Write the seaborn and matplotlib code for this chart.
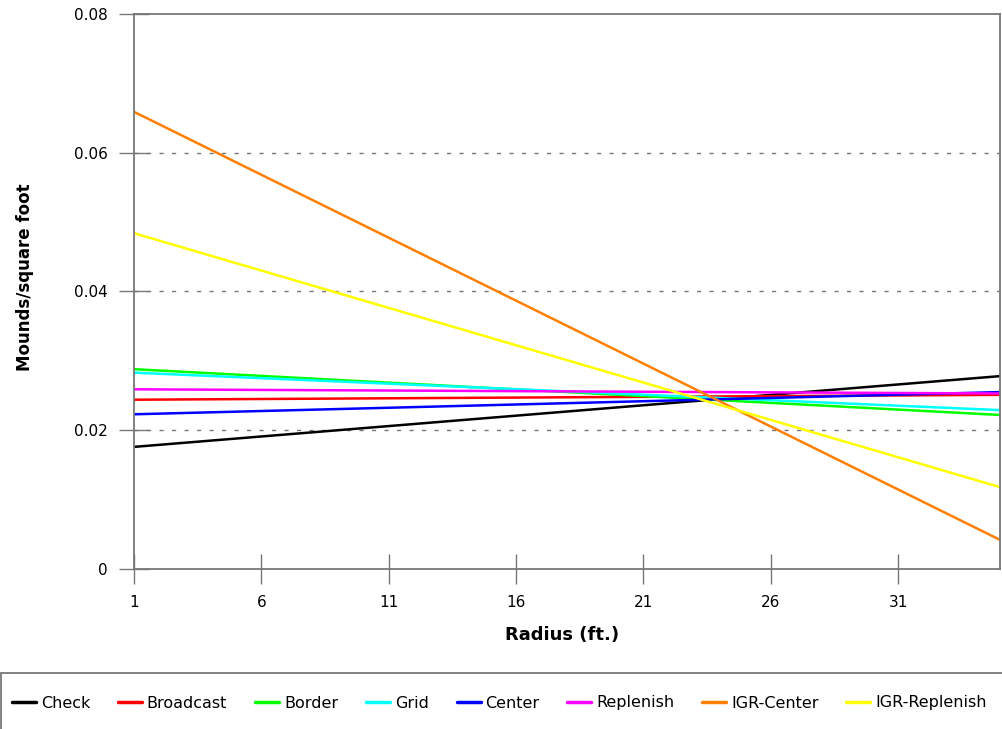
import pandas as pd
import numpy as np
import matplotlib.pyplot as plt
import seaborn as sns
from matplotlib.patches import Rectangle

# radius endpoints (ft.) - every series is a straight fitted line
radius = [1, 35]

check = [0.0176, 0.0278]
broadcast = [0.0244, 0.0251]
border = [0.0288, 0.0222]
grid = [0.0283, 0.0229]
center = [0.0223, 0.0255]
replenish = [0.0259, 0.0253]
igr_center = [0.0659, 0.0042]
igr_replenish = [0.0484, 0.0118]

names = ["Check", "Broadcast", "Border", "Grid", "Center", "Replenish", "IGR-Center", "IGR-Replenish"]
colors = ["#000000", "#ff0000", "#00ff00", "#00ffff", "#0000ff", "#ff00ff", "#ff8000", "#ffff00"]

series = [check, broadcast, border, grid, center, replenish, igr_center, igr_replenish]
rows = []
for nm, vals in zip(names, series):
    for r, v in zip(radius, vals):
        rows.append({"radius": r, "value": v, "series": nm})
df = pd.DataFrame(rows)

sns.set_style("white")
plt.rcParams["font.family"] = ["DejaVu Sans"]

fig = plt.figure(figsize=(10.03, 7.29), dpi=100)
ax = fig.add_axes([0.1336, 0.2195, 0.8634, 0.7613])

sns.lineplot(data=df, x="radius", y="value", hue="series", hue_order=names,
             palette=colors, linewidth=1.8, ax=ax, legend=False)

ax.set_xlim(1, 35)
ax.set_ylim(0, 0.08)
ax.set_xticks([1, 6, 11, 16, 21, 26, 31])
ax.set_yticks([0, 0.02, 0.04, 0.06, 0.08])
ax.set_yticklabels(["0", "0.02", "0.04", "0.06", "0.08"])

for yv in [0.02, 0.04, 0.06]:
    ax.axhline(yv, color="#777777", linewidth=1, linestyle=(0, (3, 6)), zorder=0)

for s in ax.spines.values():
    s.set_color("#777777")
    s.set_linewidth(1.3)
ax.tick_params(bottom=True, left=True, direction="inout", length=22, width=1,
               color="#777777", labelsize=11, pad=8, labelcolor="black")

ax.set_xlabel("Radius (ft.)", fontsize=13, fontweight="bold", color="black")
ax.set_ylabel("Mounds/square foot", fontsize=12, fontweight="bold", color="black")
ax.xaxis.set_label_coords(0.494, (569 - 635) / 555)
ax.yaxis.set_label_coords((25 - 134) / 866, 0.526)
ax.xaxis.label.set_va("center")
ax.yaxis.label.set_va("center")

# legend box along the bottom
fig.patches.append(Rectangle((0.001, -0.02), 1.05, 1 - 673 / 729 + 0.02,
                             transform=fig.transFigure, fill=False,
                             edgecolor="#777777", linewidth=1.3))
handles = [plt.Line2D([], [], color=c, linewidth=2.5) for c in colors]
leg = fig.legend(handles, names, loc="center left", bbox_to_anchor=(0.012, 1 - 703 / 729),
                 ncol=8, frameon=False, fontsize=11.5, handlelength=1.5, handletextpad=0.3,
                 columnspacing=1.75, borderaxespad=0, borderpad=0)
for t in leg.get_texts():
    t.set_color("black")

fig.savefig("out.png", dpi=100)
